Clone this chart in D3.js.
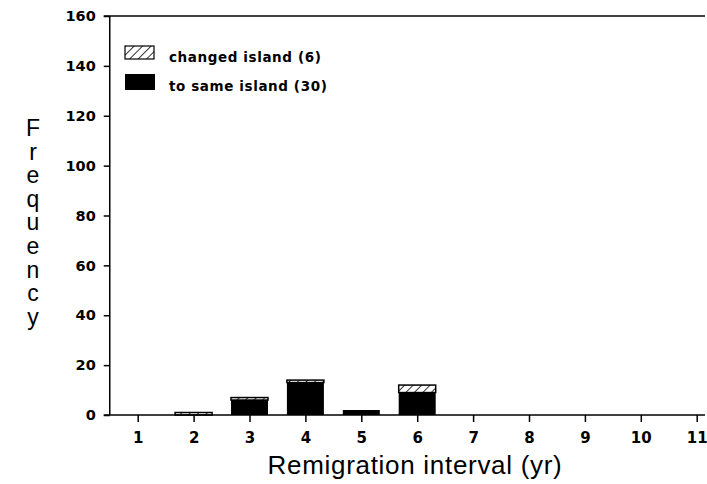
<!DOCTYPE html>
<html>
<head>
<meta charset="utf-8">
<script src="https://cdn.jsdelivr.net/npm/d3@7"></script>
<style>
  body { margin: 0; background: #fff; }
  svg { display: block; }
</style>
</head>
<body>
<div id="chart"></div>
<script>
// intervalle de remigration (années)
const intervals = [1, 2, 3, 4, 5, 6, 7, 8, 9, 10, 11];
// nombre qui reviennent sur la même île
const sameIsland = [0, 0, 6, 13, 2, 9, 0, 0, 0, 0, 0];
// nombre qui ont changé d'île
const changedIsland = [0, 1, 1, 1, 0, 3, 0, 0, 0, 0, 0];
const yTicks = [0, 20, 40, 60, 80, 100, 120, 140, 160];
const legendLabels = ["changed island (6)", "to same island (30)"];

const W = 707, H = 484;

const svg = d3.select("#chart").append("svg")
    .attr("width", W)
    .attr("height", H);

// hachures pour "changed island"
svg.append("defs").append("pattern")
    .attr("id", "hatch")
    .attr("patternUnits", "userSpaceOnUse")
    .attr("width", 6)
    .attr("height", 6)
    .attr("patternTransform", "rotate(45)")
  .append("line")
    .attr("x1", 0).attr("y1", 0)
    .attr("x2", 0).attr("y2", 6)
    .attr("stroke", "#000")
    .attr("stroke-width", 1.6);

const x = d3.scaleLinear().domain([1, 11]).range([137.7, 696.7]);
const y = d3.scaleLinear().domain([0, 160]).range([415, 16]);
const barW = 37;
const left = x(0.5), right = 705;

// barres empilées
const rows = intervals.map((k, i) => ({ k: k, same: sameIsland[i], changed: changedIsland[i] }));

svg.append("g").selectAll("rect")
    .data(rows.filter(d => d.same > 0))
    .join("rect")
    .attr("x", d => x(d.k) - barW / 2)
    .attr("y", d => y(d.same))
    .attr("width", barW)
    .attr("height", d => y(0) - y(d.same))
    .attr("fill", "#000");

svg.append("g").selectAll("rect")
    .data(rows.filter(d => d.changed > 0))
    .join("rect")
    .attr("x", d => x(d.k) - barW / 2)
    .attr("y", d => y(d.same + d.changed))
    .attr("width", barW)
    .attr("height", d => y(d.same) - y(d.same + d.changed))
    .attr("fill", "url(#hatch)")
    .attr("stroke", "#000")
    .attr("stroke-width", 1.5);

// axes
const yAxis = svg.append("g")
    .attr("transform", `translate(${left},0)`)
    .call(d3.axisLeft(y).tickValues(yTicks).tickSize(6).tickPadding(8));
yAxis.select(".domain").remove();
yAxis.selectAll(".tick line").attr("stroke-width", 1.5);
yAxis.selectAll(".tick text")
    .style("font-family", "'DejaVu Sans', sans-serif")
    .style("font-size", "14.5px")
    .style("font-weight", "bold");

const xAxis = svg.append("g")
    .attr("transform", `translate(0,${y(0)})`)
    .call(d3.axisBottom(x).tickValues(intervals).tickSize(7).tickPadding(10));
xAxis.select(".domain").remove();
xAxis.selectAll(".tick line").attr("stroke-width", 1.5);
xAxis.selectAll(".tick text")
    .style("font-family", "'DejaVu Sans', sans-serif")
    .style("font-size", "15px")
    .style("font-weight", "bold");

// cadre
svg.append("line")
    .attr("x1", left).attr("x2", left)
    .attr("y1", y(160)).attr("y2", y(0))
    .attr("stroke", "#000").attr("stroke-width", 1.5);
svg.append("line")
    .attr("x1", left - 6).attr("x2", right)
    .attr("y1", y(0)).attr("y2", y(0))
    .attr("stroke", "#000").attr("stroke-width", 1.5);
svg.append("line")
    .attr("x1", left - 6).attr("x2", right)
    .attr("y1", y(160)).attr("y2", y(160))
    .attr("stroke", "#000").attr("stroke-width", 1.5);

// titres des axes
svg.append("text")
    .attr("x", 415)
    .attr("y", 474)
    .attr("text-anchor", "middle")
    .style("font-family", "'Liberation Sans', Arial, sans-serif")
    .style("font-size", "26px")
    .style("letter-spacing", "0.7px")
    .text("Remigration interval (yr)");

svg.append("text")
    .attr("text-anchor", "middle")
    .style("font-family", "'Liberation Sans', Arial, sans-serif")
    .style("font-size", "23px")
    .selectAll("tspan")
    .data("Frequency".split(""))
    .join("tspan")
    .attr("x", 33)
    .attr("y", (d, i) => 136 + i * 23.6)
    .text(d => d);

// légende
const legend = svg.append("g").attr("transform", "translate(125,46)");
legend.append("rect")
    .attr("x", 0).attr("y", 0).attr("width", 29).attr("height", 13)
    .attr("fill", "url(#hatch)").attr("stroke", "#000").attr("stroke-width", 1.2);
legend.append("rect")
    .attr("x", 0).attr("y", 28).attr("width", 30).attr("height", 16)
    .attr("fill", "#000");
legend.selectAll("text")
    .data(legendLabels)
    .join("text")
    .attr("x", 44)
    .attr("y", (d, i) => 16 + i * 29)
    .style("font-family", "'DejaVu Sans', sans-serif")
    .style("font-size", "13.5px")
    .style("font-weight", "bold")
    .style("letter-spacing", "0.6px")
    .text(d => d);
</script>
</body>
</html>
